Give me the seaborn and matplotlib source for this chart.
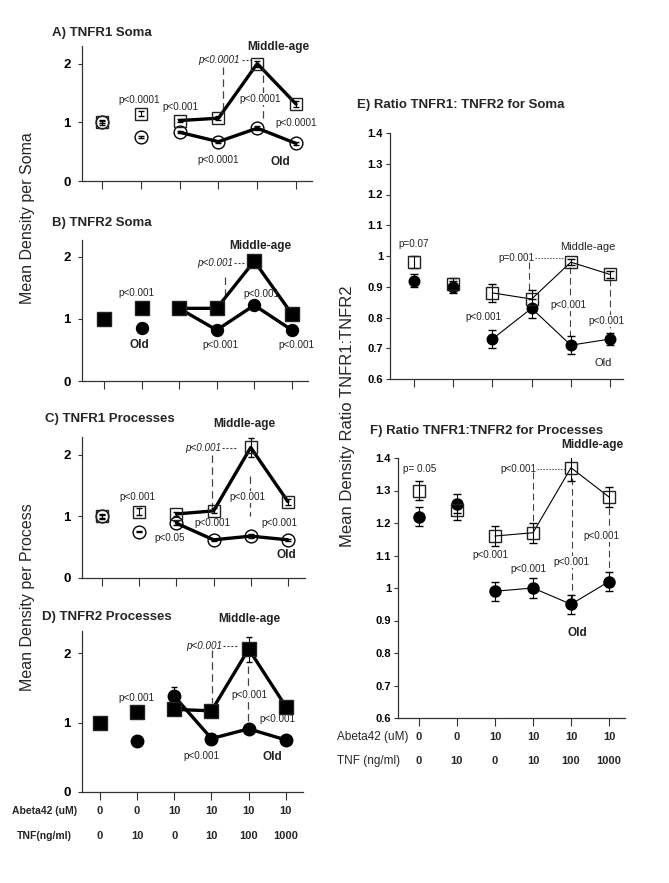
import matplotlib
matplotlib.use('Agg')  # Non-interactive backend
import matplotlib.pyplot as plt
import seaborn as sns
import numpy as np

W, H = 669, 883

# treatment conditions (x axis)
abeta = ["0", "0", "10", "10", "10", "10"]
tnf = ["0", "10", "0", "10", "100", "1000"]

# A) TNFR1 Soma
a_mid = [1.00, 1.15, 1.03, 1.07, 2.00, 1.31]
a_mid_err = [0.04, 0.05, 0.03, 0.03, 0.05, 0.05]
a_old = [1.00, 0.75, 0.83, 0.67, 0.90, 0.64]
a_old_err = [0.02, 0.01, 0.02, 0.02, 0.03, 0.02]

# B) TNFR2 Soma
b_mid = [1.00, 1.18, 1.17, 1.17, 1.93, 1.08]
b_mid_err = [0.03, 0.04, 0.04, 0.04, 0.05, 0.04]
b_old = [1.00, 0.86, 1.17, 0.82, 1.22, 0.82]
b_old_err = [0.02, 0.03, 0.03, 0.03, 0.03, 0.03]

# C) TNFR1 Processes
c_mid = [1.00, 1.08, 1.04, 1.09, 2.12, 1.24]
c_mid_err = [0.04, 0.05, 0.04, 0.04, 0.16, 0.05]
c_old = [1.00, 0.75, 0.89, 0.62, 0.68, 0.62]
c_old_err = [0.03, 0.01, 0.03, 0.02, 0.03, 0.02]

# D) TNFR2 Processes
d_mid = [1.00, 1.15, 1.19, 1.17, 2.06, 1.23]
d_mid_err = [0.03, 0.04, 0.05, 0.04, 0.18, 0.05]
d_old = [1.00, 0.74, 1.38, 0.77, 0.91, 0.75]
d_old_err = [0.02, 0.03, 0.13, 0.03, 0.04, 0.03]

# E) Ratio TNFR1:TNFR2 soma
e_mid = [0.98, 0.91, 0.88, 0.86, 0.98, 0.94]
e_mid_err = [0.02, 0.02, 0.03, 0.03, 0.01, 0.01]
e_old = [0.92, 0.90, 0.73, 0.83, 0.71, 0.73]
e_old_err = [0.02, 0.02, 0.03, 0.03, 0.03, 0.02]

# F) Ratio TNFR1:TNFR2 processes
f_mid = [1.30, 1.24, 1.16, 1.17, 1.37, 1.28]
f_mid_err = [0.03, 0.03, 0.03, 0.03, 0.04, 0.03]
f_old = [1.22, 1.26, 0.99, 1.00, 0.95, 1.02]
f_old_err = [0.03, 0.03, 0.03, 0.03, 0.03, 0.03]

sns.set_style("ticks")
plt.rcParams['font.family'] = ['Liberation Sans', 'DejaVu Sans']

fig = plt.figure(figsize=(W / 100, H / 100), dpi=100)


def add_axes_px(left, top, right, bottom):
    return fig.add_axes([left / W, 1 - bottom / H, (right - left) / W, (bottom - top) / H])


def draw_panel(ax, mid, mid_err, old, old_err, filled, lw, ms_sq, ms_ci, cap):
    x = np.arange(len(mid))
    for vals in (mid, old):
        sns.lineplot(x=x[2:], y=vals[2:], ax=ax, color='black', linewidth=lw,
                     errorbar=None, zorder=2)
    ax.errorbar(x, old, yerr=old_err, fmt='o', ms=ms_ci,
                mfc='black' if filled in ('both', 'circle') else 'none',
                mec='black', mew=1.0, ecolor='black', elinewidth=0.8,
                capsize=cap, zorder=3)
    ax.errorbar(x, mid, yerr=mid_err, fmt='s', ms=ms_sq,
                mfc='black' if filled == 'both' else 'none',
                mec='#222222', mew=1.0, ecolor='black', elinewidth=0.8,
                capsize=cap, zorder=3)


def style_axes(ax, xlim, ylim, yticks, yticklabels, fs, pad):
    ax.set_xlim(xlim)
    ax.set_ylim(ylim)
    ax.set_xticks(range(6))
    ax.set_xticklabels([])
    ax.set_yticks(yticks)
    ax.set_yticklabels(yticklabels, fontweight='bold', fontsize=fs)
    sns.despine(ax=ax)
    for sp in ('left', 'bottom'):
        ax.spines[sp].set_color('#333333')
        ax.spines[sp].set_linewidth(0.9)
    ax.tick_params(axis='x', direction='out', length=6, width=0.8, colors='#333333')
    ax.tick_params(axis='y', direction='out', length=3, width=0.8, colors='#333333',
                   pad=pad, labelcolor='black')
    ax.grid(False)
    ax.patch.set_alpha(0)


def note(ax, x, y, s, size=7.1, bold=False, italic=False, ha='center', white=False):
    kw = {}
    if white:
        kw['bbox'] = dict(facecolor='white', edgecolor='none', pad=0.6)
    ax.text(x, y, s, fontsize=size, ha=ha, va='center', color='#222222',
            fontweight='bold' if bold else 'normal',
            fontstyle='italic' if italic else 'normal', zorder=4, **kw)


def vdash(ax, x, y0, y1, lw=0.9):
    ax.plot([x, x], [y0, y1], color='#444444', lw=lw, ls=(0, (6, 3.5)), zorder=1)


def hdash(ax, x0, x1, y, lw=0.8):
    ax.plot([x0, x1], [y, y], color='#444444', lw=lw, ls=(0, (2, 1.5)), zorder=1)


# ---------------- A) TNFR1 Soma ----------------
ax_a = add_axes_px(82, 46, 312, 181)
draw_panel(ax_a, a_mid, a_mid_err, a_old, a_old_err, 'none', 2.4, 8.6, 9.2, 2)
style_axes(ax_a, (-0.515, 5.41), (0, 2.30), [0, 1, 2], ["0", "1", "2"], 9.5, 5)
note(ax_a, 4.54, 2.28, "Middle-age", size=8.5, bold=True)
note(ax_a, 3.56, 2.06, "p<0.0001", italic=True, ha='right')
hdash(ax_a, 3.60, 3.85, 2.06)
vdash(ax_a, 3.12, 1.94, 1.14)
note(ax_a, 0.95, 1.38, "p<0.0001")
note(ax_a, 2.01, 1.26, "p<0.001")
vdash(ax_a, 4.15, 1.80, 1.06)
note(ax_a, 4.07, 1.40, "p<0.0001", white=True)
note(ax_a, 5.0, 0.99, "p<0.0001")
note(ax_a, 2.99, 0.36, "p<0.0001")
note(ax_a, 4.59, 0.32, "Old", size=8.5, bold=True)
fig.text(52 / W, 1 - 33 / H, "A) TNFR1 Soma", fontsize=9.5, fontweight='bold', va='center')

# ---------------- B) TNFR2 Soma ----------------
ax_b = add_axes_px(82, 240, 308, 381)
draw_panel(ax_b, b_mid, b_mid_err, b_old, b_old_err, 'both', 2.4, 9.4, 8.6, 2)
style_axes(ax_b, (-0.585, 5.43), (0, 2.27), [0, 1, 2], ["0", "1", "2"], 9.5, 5)
note(ax_b, 4.15, 2.18, "Middle-age", size=8.5, bold=True)
note(ax_b, 3.43, 1.90, "p<0.001", italic=True, ha='right')
hdash(ax_b, 3.46, 3.75, 1.90)
vdash(ax_b, 3.22, 1.68, 1.31)
note(ax_b, 0.85, 1.42, "p<0.001")
note(ax_b, 4.20, 1.40, "p<0.001")
note(ax_b, 3.09, 0.58, "p<0.001")
note(ax_b, 5.13, 0.58, "p<0.001")
note(ax_b, 0.93, 0.58, "Old", size=8.5, bold=True)
fig.text(52 / W, 1 - 223 / H, "B) TNFR2 Soma", fontsize=9.5, fontweight='bold', va='center')

# ---------------- C) TNFR1 Processes ----------------
ax_c = add_axes_px(82, 437, 305, 578)
draw_panel(ax_c, c_mid, c_mid_err, c_old, c_old_err, 'none', 2.4, 8.6, 9.2, 2)
style_axes(ax_c, (-0.54, 5.46), (0, 2.29), [0, 1, 2], ["0", "1", "2"], 9.5, 5)
note(ax_c, 3.84, 2.50, "Middle-age", size=8.5, bold=True)
note(ax_c, 3.20, 2.11, "p<0.001", italic=True, ha='right')
hdash(ax_c, 3.23, 3.63, 2.11)
vdash(ax_c, 2.96, 2.00, 1.15)
note(ax_c, 0.94, 1.32, "p<0.001")
vdash(ax_c, 3.98, 1.65, 1.00)
note(ax_c, 3.92, 1.32, "p<0.001", white=True)
note(ax_c, 2.96, 0.89, "p<0.001")
note(ax_c, 4.78, 0.89, "p<0.001")
note(ax_c, 1.83, 0.65, "p<0.05")
note(ax_c, 4.95, 0.37, "Old", size=8.5, bold=True)
fig.text(45 / W, 1 - 419 / H, "C) TNFR1 Processes", fontsize=9.5, fontweight='bold', va='center')

# ---------------- D) TNFR2 Processes ----------------
ax_d = add_axes_px(82, 631, 303, 792)
draw_panel(ax_d, d_mid, d_mid_err, d_old, d_old_err, 'both', 2.4, 9.4, 9.0, 2)
style_axes(ax_d, (-0.48, 5.46), (0, 2.32), [0, 1, 2], ["0", "1", "2"], 9.5, 5)
note(ax_d, 4.03, 2.49, "Middle-age", size=8.5, bold=True)
note(ax_d, 3.28, 2.10, "p<0.001", italic=True, ha='right')
hdash(ax_d, 3.31, 3.68, 2.10)
vdash(ax_d, 3.01, 2.04, 1.28)
note(ax_d, 0.99, 1.35, "p<0.001")
vdash(ax_d, 3.98, 1.82, 0.99)
note(ax_d, 4.03, 1.40, "p<0.001", white=True)
note(ax_d, 4.78, 1.05, "p<0.001")
note(ax_d, 2.74, 0.52, "p<0.001")
note(ax_d, 4.65, 0.50, "Old", size=8.5, bold=True)
fig.text(42 / W, 1 - 617 / H, "D) TNFR2 Processes", fontsize=9.5, fontweight='bold', va='center')
for i in range(6):
    for val, dy in ((abeta[i], 19), (tnf[i], 44)):
        ax_d.annotate(val, xy=(i, 0), xycoords=('data', 'axes fraction'),
                      xytext=(0, -dy * 0.72), textcoords='offset points',
                      ha='center', va='center', fontsize=8, fontweight='bold')
fig.text(12 / W, 1 - 811 / H, "Abeta42 (uM)", fontsize=7.5, fontweight='bold', va='center')
fig.text(17 / W, 1 - 836 / H, "TNF(ng/ml)", fontsize=7.5, fontweight='bold', va='center')

# ---------------- E) Ratio soma ----------------
ratio_ticks = [0.6, 0.7, 0.8, 0.9, 1.0, 1.1, 1.2, 1.3, 1.4]
ratio_labels = ["0.6", "0.7", "0.8", "0.9", "1", "1.1", "1.2", "1.3", "1.4"]
ax_e = add_axes_px(390, 133, 623, 379)
draw_panel(ax_e, e_mid, e_mid_err, e_old, e_old_err, 'circle', 0.8, 8.4, 7.6, 3)
style_axes(ax_e, (-0.61, 5.33), (0.6, 1.4), ratio_ticks, ratio_labels, 8, 2)
note(ax_e, 0.0, 1.039, "p=0.07")
note(ax_e, 4.44, 1.029, "Middle-age", size=8)
note(ax_e, 3.06, 0.993, "p=0.001", ha='right')
hdash(ax_e, 3.08, 3.82, 0.993, lw=0.6)
vdash(ax_e, 2.93, 0.98, 0.885, lw=0.8)
vdash(ax_e, 3.98, 0.965, 0.74, lw=0.8)
note(ax_e, 3.95, 0.84, "p<0.001", white=True)
vdash(ax_e, 5.0, 0.925, 0.745, lw=0.8)
note(ax_e, 4.90, 0.789, "p<0.001", white=True)
note(ax_e, 1.76, 0.80, "p<0.001")
note(ax_e, 4.82, 0.652, "Old", size=8)
fig.text(357 / W, 1 - 105 / H, "E) Ratio TNFR1: TNFR2 for Soma", fontsize=9.5,
         fontweight='bold', va='center')

# ---------------- F) Ratio processes ----------------
ax_f = add_axes_px(398, 458, 625, 718)
draw_panel(ax_f, f_mid, f_mid_err, f_old, f_old_err, 'circle', 0.8, 8.4, 8.0, 3)
style_axes(ax_f, (-0.55, 5.42), (0.6, 1.4), ratio_ticks, ratio_labels, 8, 2)
note(ax_f, 4.55, 1.44, "Middle-age", size=8.5, bold=True)
note(ax_f, 0.03, 1.366, "p= 0.05")
note(ax_f, 3.08, 1.366, "p<0.001", ha='right')
hdash(ax_f, 3.10, 3.85, 1.366, lw=0.6)
vdash(ax_f, 3.0, 1.357, 1.18, lw=0.8)
vdash(ax_f, 4.03, 1.34, 0.97, lw=0.8)
note(ax_f, 4.0, 1.08, "p<0.001", white=True)
vdash(ax_f, 5.0, 1.246, 1.03, lw=0.8)
note(ax_f, 4.79, 1.16, "p<0.001", white=True)
note(ax_f, 1.87, 1.10, "p<0.001")
note(ax_f, 2.87, 1.058, "p<0.001")
note(ax_f, 4.18, 0.86, "Old", size=8.5, bold=True)
fig.text(370 / W, 1 - 431 / H, "F) Ratio TNFR1:TNFR2 for Processes", fontsize=9.5,
         fontweight='bold', va='center')
for i in range(6):
    for val, dy in ((abeta[i], 19), (tnf[i], 43)):
        ax_f.annotate(val, xy=(i, 0), xycoords=('data', 'axes fraction'),
                      xytext=(0, -dy * 0.72), textcoords='offset points',
                      ha='center', va='center', fontsize=8, fontweight='bold')
fig.text(337 / W, 1 - 737 / H, "Abeta42 (uM)", fontsize=8.5, va='center')
fig.text(337 / W, 1 - 761 / H, "TNF (ng/ml)", fontsize=8.5, va='center')

# shared y labels
fig.text(28 / W, 1 - 218 / H, "Mean Density per Soma", rotation=90, fontsize=11.5,
         ha='center', va='center')
fig.text(28 / W, 1 - 597 / H, "Mean Density per Process", rotation=90, fontsize=11.5,
         ha='center', va='center')
fig.text(348 / W, 1 - 416 / H, "Mean Density Ratio TNFR1:TNFR2", rotation=90, fontsize=12,
         ha='center', va='center')

plt.savefig("out.png", dpi=100)
plt.close()
